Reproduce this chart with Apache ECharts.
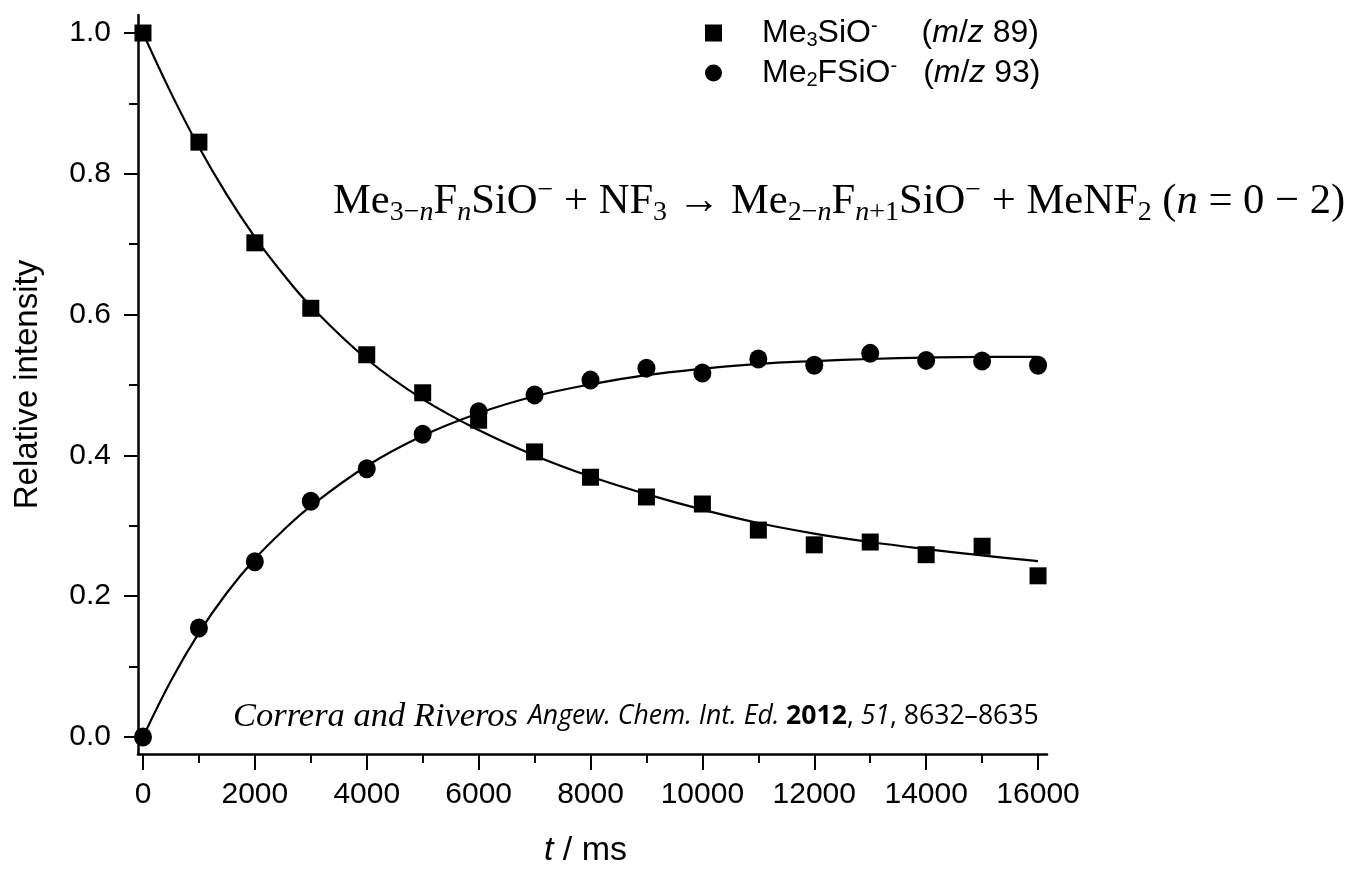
<!DOCTYPE html>
<html>
<head>
<meta charset="utf-8">
<script src="https://cdn.jsdelivr.net/npm/echarts@6/dist/echarts.min.js"></script>
<style>
html,body{margin:0;padding:0;background:#fff;}
#chart{width:1352px;height:870px;}
</style>
</head>
<body>
<div id="chart"></div>
<script>
// ---- data ----
const times = [0,1000,2000,3000,4000,5000,6000,7000,8000,9000,10000,11000,12000,13000,14000,15000,16000];
const me3SiO = [1.000,0.845,0.702,0.609,0.543,0.489,0.450,0.405,0.369,0.341,0.331,0.294,0.273,0.277,0.259,0.271,0.229];
const me2FSiO = [0.000,0.155,0.249,0.335,0.381,0.430,0.462,0.486,0.507,0.524,0.517,0.537,0.528,0.545,0.535,0.534,0.528];
// fitted curves
const fitTimes = [0,500,1000,1500,2000,2500,3000,4000,5000,6000,7000,8000,9000,10000,11000,12000,13000,14000,15000,16000];
const fitDecay = [1.000,0.915,0.838,0.770,0.710,0.658,0.612,0.537,0.480,0.436,0.400,0.370,0.345,0.323,0.304,0.289,0.277,0.267,0.258,0.250];
const fitRise  = [0.000,0.080,0.148,0.205,0.253,0.293,0.328,0.385,0.428,0.460,0.484,0.501,0.514,0.523,0.530,0.534,0.537,0.539,0.540,0.540];
const xMajorTicks = [0,2000,4000,6000,8000,10000,12000,14000,16000];
const xMinorTicks = [1000,3000,5000,7000,9000,11000,13000,15000];
const yMajorTicks = [0,0.2,0.4,0.6,0.8,1.0];
const yMinorTicks = [0.1,0.3,0.5,0.7,0.9];
const seriesNames = ['Me3SiO', 'Me2FSiO'];

const pair = (xs, ys) => xs.map((x, i) => [x, ys[i]]);

const SANS = 'Liberation Sans, Arial, sans-serif';
const SERIF = 'Liberation Serif, Times New Roman, serif';
const CITE = 'Open Sans, sans-serif';

const chart = echarts.init(document.getElementById('chart'), null, {renderer: 'canvas'});

const xBase = {
  type: 'value', min: -89, max: 16160, position: 'bottom',
  splitLine: {show: false}
};
const yBase = {
  type: 'value', min: -0.0241, max: 1.0256, position: 'left',
  splitLine: {show: false}
};

const LF = 32;
const legendRich = {
  n: {fontFamily: SANS, fontSize: LF, color: '#000', lineHeight: 34},
  p: {fontFamily: SANS, fontSize: LF, color: '#000', lineHeight: 34, padding: [0,0,0,35]},
  g: {fontFamily: SANS, fontSize: LF, color: '#000', lineHeight: 34, padding: [0,0,0,44]},
  h: {fontFamily: SANS, fontSize: LF, color: '#000', lineHeight: 34, padding: [0,0,0,26]},
  i: {fontFamily: SANS, fontSize: LF, fontStyle: 'italic', color: '#000', lineHeight: 34},
  sub: {fontFamily: SANS, fontSize: 20, color: '#000', lineHeight: 12, verticalAlign: 'bottom'},
  sup: {fontFamily: SANS, fontSize: 20, color: '#000', lineHeight: 11, verticalAlign: 'top'}
};

const eqRich = {
  m: {fontFamily: SERIF, fontSize: 42.6, lineHeight: 50},
  mi: {fontFamily: SERIF, fontSize: 42.6, fontStyle: 'italic', lineHeight: 50},
  s: {fontFamily: SERIF, fontSize: 28, lineHeight: 22, verticalAlign: 'bottom'},
  si: {fontFamily: SERIF, fontSize: 28, fontStyle: 'italic', lineHeight: 22, verticalAlign: 'bottom'},
  u: {fontFamily: SERIF, fontSize: 28, lineHeight: 24, verticalAlign: 'top'}
};

const CF = 26.6;
const citeRich = {
  a: {fontFamily: SERIF, fontSize: 34.5, fontStyle: 'italic', lineHeight: 40},
  b: {fontFamily: CITE, fontSize: CF, fontStyle: 'italic', lineHeight: 40, padding: [0,0,0,10]},
  c: {fontFamily: CITE, fontSize: CF, fontWeight: 'bold', lineHeight: 40},
  d: {fontFamily: CITE, fontSize: CF, lineHeight: 40},
  e: {fontFamily: CITE, fontSize: CF, fontStyle: 'italic', lineHeight: 40}
};

const option = {
  backgroundColor: '#fff',
  animation: false,
  grid: {left: 138, right: 305, top: 15, bottom: 116, containLabel: false, outerBoundsMode: 'none'},
  legend: {
    orient: 'vertical', left: 705, top: 16, padding: 0,
    itemWidth: 17, itemHeight: 17, itemGap: 6,
    data: [{name: seriesNames[0], icon: 'rect'}, {name: seriesNames[1], icon: 'circle'}],
    selectedMode: false,
    itemStyle: {color: '#000', opacity: 1},
    textStyle: {rich: legendRich, color: '#000'},
    formatter: function (name) {
      if (name === seriesNames[0]) {
        return '{p|Me}{sub|3}{n|SiO}{sup|-}{g|(}{i|m}{n|/}{i|z}{n| 89)}';
      }
      return '{p|Me}{sub|2}{n|FSiO}{sup|-}{h|(}{i|m}{n|/}{i|z}{n| 93)}';
    }
  },
  xAxis: [
    Object.assign({}, xBase, {
      name: '{it|t}{n| / ms}', nameLocation: 'middle', nameGap: 80,
      nameTextStyle: {padding: [0, 14, 0, 0], rich: {
        it: {fontFamily: SANS, fontSize: 34, fontStyle: 'italic', color: '#000'},
        n: {fontFamily: SANS, fontSize: 34, color: '#000'}
      }},
      axisLine: {show: true, onZero: false, lineStyle: {color: '#000', width: 2.5}},
      axisTick: {show: true, customValues: xMajorTicks, length: 16, lineStyle: {color: '#000', width: 2}},
      axisLabel: {show: true, customValues: xMajorTicks, margin: 26, fontSize: 30, fontFamily: SANS, color: '#000',
        formatter: v => String(Math.round(v))}
    }),
    Object.assign({}, xBase, {
      axisLine: {show: false, onZero: false},
      axisTick: {show: true, customValues: xMinorTicks, length: 9, lineStyle: {color: '#000', width: 2}},
      axisLabel: {show: false}
    })
  ],
  yAxis: [
    Object.assign({}, yBase, {
      name: 'Relative intensity', nameLocation: 'middle', nameGap: 94, nameRotate: 90,
      nameTextStyle: {fontFamily: SANS, fontSize: 33, color: '#000'},
      axisLine: {show: true, onZero: false, lineStyle: {color: '#000', width: 2.5}},
      axisTick: {show: true, customValues: yMajorTicks, length: 14, lineStyle: {color: '#000', width: 2}},
      axisLabel: {show: true, customValues: yMajorTicks, margin: 27, fontSize: 30, fontFamily: SANS, color: '#000',
        formatter: v => Number(v).toFixed(1)}
    }),
    Object.assign({}, yBase, {
      axisLine: {show: false, onZero: false},
      axisTick: {show: true, customValues: yMinorTicks, length: 9, lineStyle: {color: '#000', width: 2}},
      axisLabel: {show: false}
    })
  ],
  series: [
    {
      name: 'fitDecay', type: 'line', xAxisIndex: 0, yAxisIndex: 0,
      data: pair(fitTimes, fitDecay), showSymbol: false, smooth: 0.4,
      lineStyle: {color: '#000', width: 2.2}, silent: true, z: 2
    },
    {
      name: 'fitRise', type: 'line', xAxisIndex: 0, yAxisIndex: 0,
      data: pair(fitTimes, fitRise), showSymbol: false, smooth: 0.4,
      lineStyle: {color: '#000', width: 2.2}, silent: true, z: 2
    },
    {
      name: seriesNames[0], type: 'scatter', xAxisIndex: 0, yAxisIndex: 0,
      data: pair(times, me3SiO), symbol: 'rect', symbolSize: 17,
      itemStyle: {color: '#000', opacity: 1}, z: 3
    },
    {
      name: seriesNames[1], type: 'scatter', xAxisIndex: 0, yAxisIndex: 0,
      data: pair(times, me2FSiO), symbol: 'circle', symbolSize: [18, 19],
      itemStyle: {color: '#000', opacity: 1}, z: 3
    }
  ],
  graphic: [
    {
      type: 'text', left: 333, top: 177, silent: true,
      style: {
        text: '{m|Me}{s|3\u2212}{si|n}{m|F}{si|n}{m|SiO}{u|\u2212}{m| + NF}{s|3}{m| \u2192 Me}{s|2\u2212}{si|n}{m|F}{si|n}{s|+1}{m|SiO}{u|\u2212}{m| + MeNF}{s|2}{m| (}{mi|n}{m| = 0 \u2212 2)}',
        rich: eqRich, fill: '#000', fontFamily: SERIF, fontSize: 42.6
      }
    },
    {
      type: 'text', left: 233, top: 699, silent: true,
      style: {
        text: '{a|Correra and Riveros}{b|Angew. Chem. Int. Ed.} {c|2012}{d|, }{e|51}{d|, 8632\u20138635}',
        rich: citeRich, fill: '#000', fontFamily: SERIF, fontSize: CF
      }
    }
  ]
};

chart.setOption(option);
</script>
</body>
</html>
